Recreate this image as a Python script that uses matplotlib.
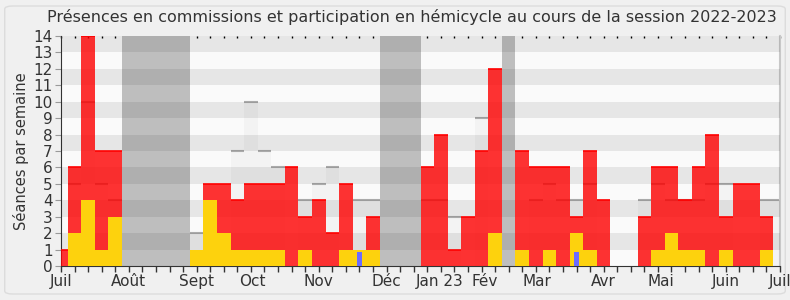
import numpy as np
import matplotlib
matplotlib.use("Agg")
from matplotlib import pyplot as plt
from matplotlib.patches import FancyBboxPatch

# one value per week of the session (week 0 = start of July 2022)
presence_commission = [1, 6, 14, 7, 7, 0, 0, 0, 0, 0,
                       0, 5, 5, 4, 5, 5, 5, 6, 3, 4,
                       2, 5, 0, 3, 0, 0, 0, 6, 8, 1,
                       3, 7, 12, 0, 7, 6, 6, 6, 3, 7,
                       4, 0, 0, 3, 6, 6, 4, 6, 8, 3,
                       5, 5, 3, 0]
participation_hemicycle = [0, 2, 4, 1, 3, 0, 0, 0, 0, 0,
                           1, 4, 2, 1, 1, 1, 1, 0, 1, 0,
                           0, 1, 1, 1, 0, 0, 0, 0, 0, 0,
                           0, 0, 2, 0, 1, 0, 1, 0, 2, 1,
                           0, 0, 0, 0, 1, 2, 1, 1, 0, 1,
                           0, 0, 1, 0]
questions_orales = [0] * 54
questions_orales[22] = 0.85
questions_orales[38] = 0.85
seances = [0, 5, 10, 5, 4, 0, 0, 0, 0, 0,
           2, 0, 0, 7, 10, 7, 6, 0, 4, 5,
           6, 0, 4, 4, 0, 0, 0, 4, 4, 3,
           0, 9, 0, 0, 0, 4, 5, 4, 4, 5,
           0, 0, 0, 4, 5, 4, 4, 4, 5, 5,
           0, 0, 4, 4]
vacances = [5, 6, 7, 8, 9, 24, 25, 26, 33]

mois = ["Juil", "Août", "Sept", "Oct", "Nov", "Déc", "Jan 23", "Fév",
        "Mar", "Avr", "Mai", "Juin", "Juil"]
mois_pos = [0, 4.95, 10, 14.1, 19, 24, 27.9, 31.2, 35.1, 40, 44.2, 49, 53]

weeks = np.arange(len(presence_commission))

fig = plt.figure(figsize=(7.9, 3.0), dpi=100)
fig.patch.set_facecolor("#f0f0f0")
fig.patches.append(FancyBboxPatch((0.006, 0.02), 0.988, 0.96,
                                  boxstyle="round,pad=0,rounding_size=0.01",
                                  transform=fig.transFigure, facecolor="#f0f0f0",
                                  edgecolor="#dcdcdc", linewidth=1, zorder=-10))

ax = fig.add_axes([61 / 790, 34 / 300, 719 / 790, 230 / 300])
ax.set_facecolor("#fafafa")

# holidays
ax.bar(vacances, [14] * len(vacances), width=1, color="#bebebe", zorder=1)

# sessions held
ax.bar(weeks, seances, width=1, color="#f3f3f3", zorder=2)
for i, s in enumerate(seances):
    if s > 0:
        ax.hlines(s, i - 0.5, i + 0.5, color="#aaaaaa", lw=1.5, zorder=2.5)

# horizontal stripes
for k in range(1, 14, 2):
    ax.axhspan(k, k + 1, color="black", alpha=0.08, lw=0, zorder=2.8)

ax.bar(weeks, presence_commission, width=1, color="#ff0000", alpha=0.8, zorder=3)
for i, v in enumerate(presence_commission):
    if v > 0:
        ax.hlines(v, i - 0.5, i + 0.5, color="#ff0000", lw=1.2, zorder=3.2)
ax.bar(weeks, participation_hemicycle, width=1, color="#fdd20d", zorder=4)
ax.bar(weeks, questions_orales, width=0.37, color="#6b6bff", zorder=5)

ax.set_xlim(0, 53)
ax.set_ylim(0, 14)
ax.set_yticks(range(15))
ax.xaxis.remove_overlapping_locs = False
ax.set_xticks(np.arange(0, 54))
ax.set_xticklabels([])
ax.set_xticks(mois_pos, minor=True)
ax.set_xticklabels(mois, minor=True)
ax.tick_params(axis="x", which="major", length=4, width=1, color="#333333", direction="out")
ax.tick_params(axis="x", which="minor", length=0, pad=6, labelsize=11, labelcolor="#333333")
ax.tick_params(axis="y", length=4, color="#999999", labelsize=11, labelcolor="#333333", pad=2)

top = ax.secondary_xaxis("top")
top.set_xticks(np.arange(0, 54))
top.set_xticklabels([])
top.tick_params(length=1.5, direction="in", color="black", width=1)
top.spines["top"].set_visible(False)

ax.spines["top"].set_visible(False)
ax.spines["right"].set_color("#c8c8c8")
ax.spines["right"].set_linewidth(1.5)
ax.spines["left"].set_color("#333333")
ax.spines["bottom"].set_color("#333333")

ax.set_ylabel("Séances par semaine", fontsize=10.5, color="#333333", labelpad=3)
fig.text(412 / 790, 1 - 17 / 300,
         "Présences en commissions et participation en hémicycle au cours de la session 2022-2023",
         ha="center", va="center", fontsize=11.5, color="#333333")

fig.savefig("out.png", dpi=100, facecolor=fig.get_facecolor())
